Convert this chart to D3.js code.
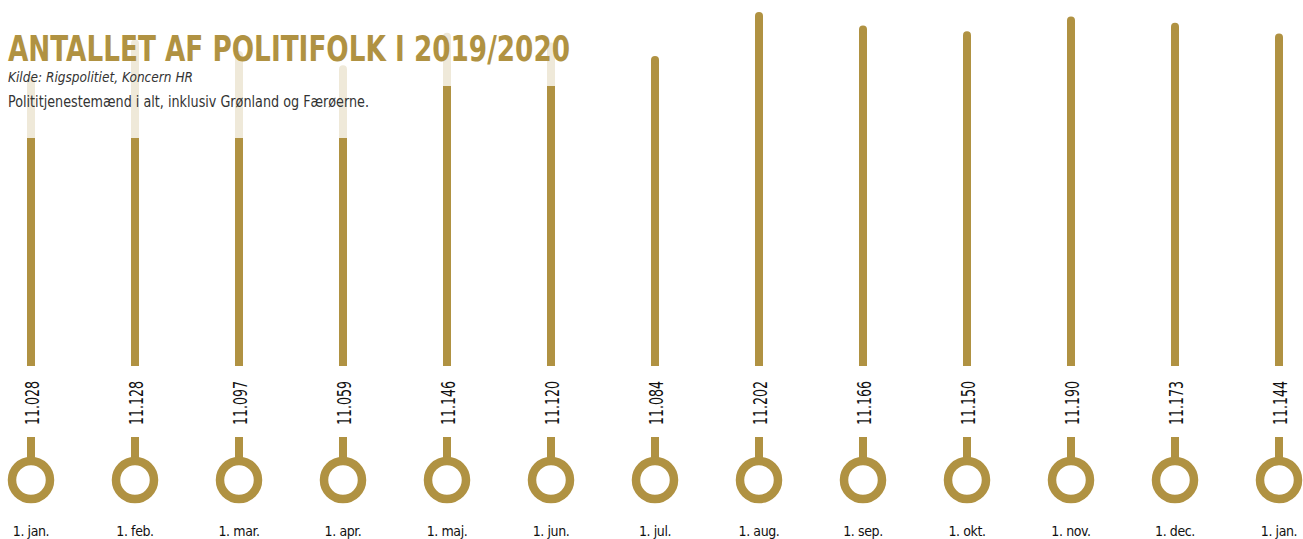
<!DOCTYPE html>
<html>
<head>
<meta charset="utf-8">
<script src="https://cdn.jsdelivr.net/npm/d3@7"></script>
<style>
  body { margin: 0; background: #fff; }
  svg { display: block; }
  text { font-family: "Liberation Sans Narrow", "DejaVu Sans Condensed", Roboto, sans-serif; }
</style>
</head>
<body>
<div id="chart"></div>
<script>
// data
var months = ["1. jan.", "1. feb.", "1. mar.", "1. apr.", "1. maj.", "1. jun.", "1. jul.",
              "1. aug.", "1. sep.", "1. okt.", "1. nov.", "1. dec.", "1. jan. "];
var values = [11028, 11128, 11097, 11059, 11146, 11120, 11084, 11202, 11166, 11150, 11190, 11173, 11144];
var labels = ["11.028", "11.128", "11.097", "11.059", "11.146", "11.120", "11.084",
              "11.202", "11.166", "11.150", "11.190", "11.173", "11.144"];

var width = 1303, height = 539;
var gold = "#b09242";

var svg = d3.select("#chart").append("svg")
  .attr("width", width)
  .attr("height", height);

var x = d3.scalePoint()
  .domain(months)
  .range([31, 1279]);

var y = d3.scaleLinear()
  .domain([10250, 11202])
  .range([366, 12]);

var data = months.map(function(m, i) { return {m: m, v: values[i], l: labels[i]}; });

// bars
var g = svg.append("g");
g.selectAll(".bar")
  .data(data)
  .enter().append("rect")
    .attr("x", function(d) { return x(d.m) - 4; })
    .attr("y", function(d) { return y(d.v) + 4; })
    .attr("width", 8)
    .attr("height", function(d) { return y.range()[0] - y(d.v) - 4; })
    .attr("fill", gold);
g.selectAll(".cap")
  .data(data)
  .enter().append("circle")
    .attr("cx", function(d) { return x(d.m); })
    .attr("cy", function(d) { return y(d.v) + 4; })
    .attr("r", 4)
    .attr("fill", gold);

// white veil behind header text
svg.append("rect").attr("x", 0).attr("y", 0).attr("width", 575).attr("height", 86)
  .attr("fill", "#fff").attr("opacity", 0.8);
svg.append("rect").attr("x", 0).attr("y", 86).attr("width", 372).attr("height", 52)
  .attr("fill", "#fff").attr("opacity", 0.8);

// value labels
g.selectAll(".val")
  .data(data)
  .enter().append("text")
    .attr("transform", function(d) { return "translate(" + (x(d.m) + 1) + ",403) rotate(-90)"; })
    .attr("text-anchor", "middle")
    .attr("dominant-baseline", "central")
    .attr("font-size", 20)
    .attr("textLength", 44)
    .attr("lengthAdjust", "spacingAndGlyphs")
    .attr("fill", "#111")
    .text(function(d) { return d.l; });

// stems and rings
g.selectAll(".stem")
  .data(data)
  .enter().append("rect")
    .attr("x", function(d) { return x(d.m) - 4; })
    .attr("y", 437)
    .attr("width", 8)
    .attr("height", 24)
    .attr("fill", gold);
g.selectAll(".ring")
  .data(data)
  .enter().append("circle")
    .attr("cx", function(d) { return x(d.m); })
    .attr("cy", 480)
    .attr("r", 19)
    .attr("fill", "#fff")
    .attr("stroke", gold)
    .attr("stroke-width", 8.5);

// month labels
g.selectAll(".month")
  .data(data)
  .enter().append("text")
    .attr("x", function(d) { return x(d.m); })
    .attr("y", 536)
    .attr("text-anchor", "middle")
    .attr("font-size", 14)
    .attr("letter-spacing", -0.4)
    .attr("fill", "#111")
    .text(function(d) { return d.m.trim(); });

// header
svg.append("text")
  .attr("x", 8).attr("y", 61)
  .attr("font-size", 35)
  .attr("font-weight", "bold")
  .attr("textLength", 562)
  .attr("lengthAdjust", "spacingAndGlyphs")
  .attr("fill", gold)
  .text("ANTALLET AF POLITIFOLK I 2019/2020");
svg.append("text")
  .attr("x", 8).attr("y", 82)
  .attr("font-size", 13.5)
  .attr("font-style", "italic")
  .attr("textLength", 185)
  .attr("lengthAdjust", "spacingAndGlyphs")
  .attr("fill", "#333")
  .text("Kilde: Rigspolitiet, Koncern HR");
svg.append("text")
  .attr("x", 8).attr("y", 107)
  .attr("font-size", 15)
  .attr("textLength", 361)
  .attr("lengthAdjust", "spacingAndGlyphs")
  .attr("fill", "#333")
  .text("Polititjenestemænd i alt, inklusiv Grønland og Færøerne.");
</script>
</body>
</html>
